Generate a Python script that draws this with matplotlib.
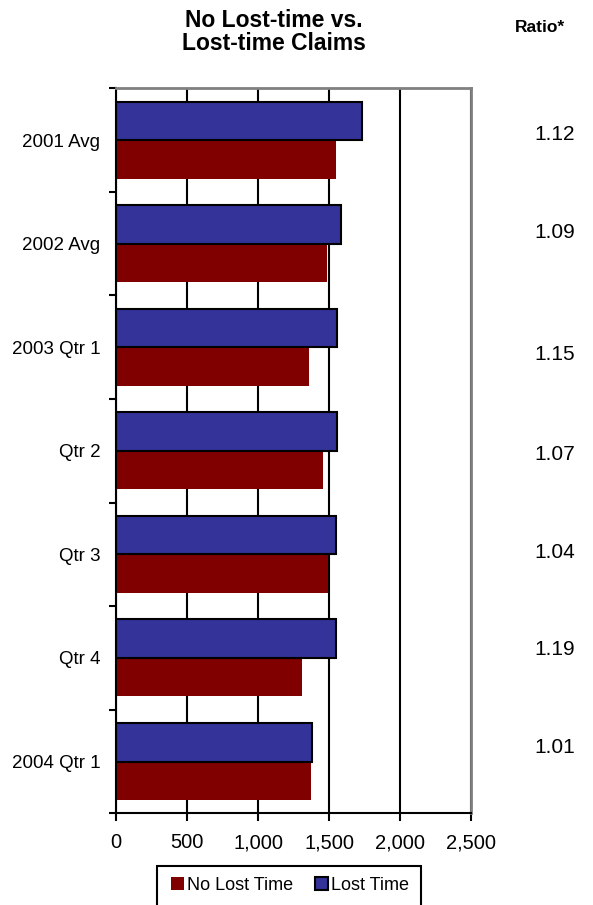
import matplotlib.pyplot as plt
from matplotlib.patches import Rectangle
from matplotlib.ticker import FuncFormatter
import numpy as np

plt.rcParams['font.family'] = ['Liberation Sans', 'DejaVu Sans']

periods = ["2001 Avg", "2002 Avg", "2003 Qtr 1", "Qtr 2", "Qtr 3", "Qtr 4", "2004 Qtr 1"]
lost_time = [1730, 1582, 1554, 1559, 1545, 1552, 1382]
no_lost_time = [1549, 1484, 1361, 1458, 1495, 1312, 1375]
ratios = ["1.12", "1.09", "1.15", "1.07", "1.04", "1.19", "1.01"]
ratio_y_px = [134, 232, 355, 454, 552, 649, 747]

W, H = 593, 905
fig = plt.figure(figsize=(W / 100, H / 100), dpi=100)
ax = fig.add_axes([116.3 / W, 1 - 813.3 / H, (471 - 116.3) / W, (813.3 - 88.3) / H])

pos = np.arange(len(periods))
bh = 0.372
red = "#800000"
blue = "#333399"

ax.barh(pos + bh / 2, no_lost_time, height=bh, color=red, linewidth=0, label="No Lost Time")
ax.barh(pos - bh / 2, lost_time, height=bh, color=blue, edgecolor="black", linewidth=1.5,
        label="Lost Time")

ax.set_xlim(0, 2500)
ax.set_ylim(len(periods) - 0.5, -0.5)
ax.set_xticks(np.arange(0, 2501, 500))
ax.xaxis.set_major_formatter(FuncFormatter(lambda v, p: f"{int(v):,}"))
ax.grid(axis="x", color="black", linewidth=1.5)
ax.set_axisbelow(True)

# category boundaries get tick marks, labels sit at the centers
ax.set_yticks(np.arange(-0.5, len(periods), 1.0))
ax.set_yticklabels([])
ax.set_yticks(pos, minor=True)
ax.set_yticklabels(periods, minor=True, fontsize=13.5)
ax.tick_params(axis="y", which="minor", length=0, pad=11.5)
ax.tick_params(axis="y", which="major", length=5, width=1.5, direction="out")
ax.tick_params(axis="x", length=5.5, width=1.5, labelsize=14.5, pad=9)

for side in ("left", "bottom"):
    ax.spines[side].set_color("black")
    ax.spines[side].set_linewidth(1.5)
for side in ("top", "right"):
    ax.spines[side].set_color("#808080")
    ax.spines[side].set_linewidth(2)

fig.text(274 / W, 1 - 32 / H, "No Lost-time vs.\nLost-time Claims", ha="center", va="center",
         fontsize=16.5, fontweight="bold", linespacing=1.02)
fig.text(540 / W, 1 - 27.5 / H, "Ratio*", ha="center", va="center", fontsize=12.5,
         fontweight="bold")
for r, y in zip(ratios, ratio_y_px):
    fig.text(555 / W, 1 - y / H, r, ha="center", va="center", fontsize=15)

# legend box runs past the bottom edge
fig.patches.append(Rectangle((157 / W, 1 - 920 / H), (421 - 157) / W, (920 - 866) / H,
                             transform=fig.transFigure, facecolor="white",
                             edgecolor="black", linewidth=1.5))
handles, labels = ax.get_legend_handles_labels()
fig.legend(handles, labels, loc="center", bbox_to_anchor=(290 / W, 1 - 885 / H), ncol=2,
           frameon=False, fontsize=13, handlelength=0.75, handleheight=0.75,
           handletextpad=0.15, columnspacing=1.2, borderpad=0)

fig.savefig("out.png", dpi=100)
